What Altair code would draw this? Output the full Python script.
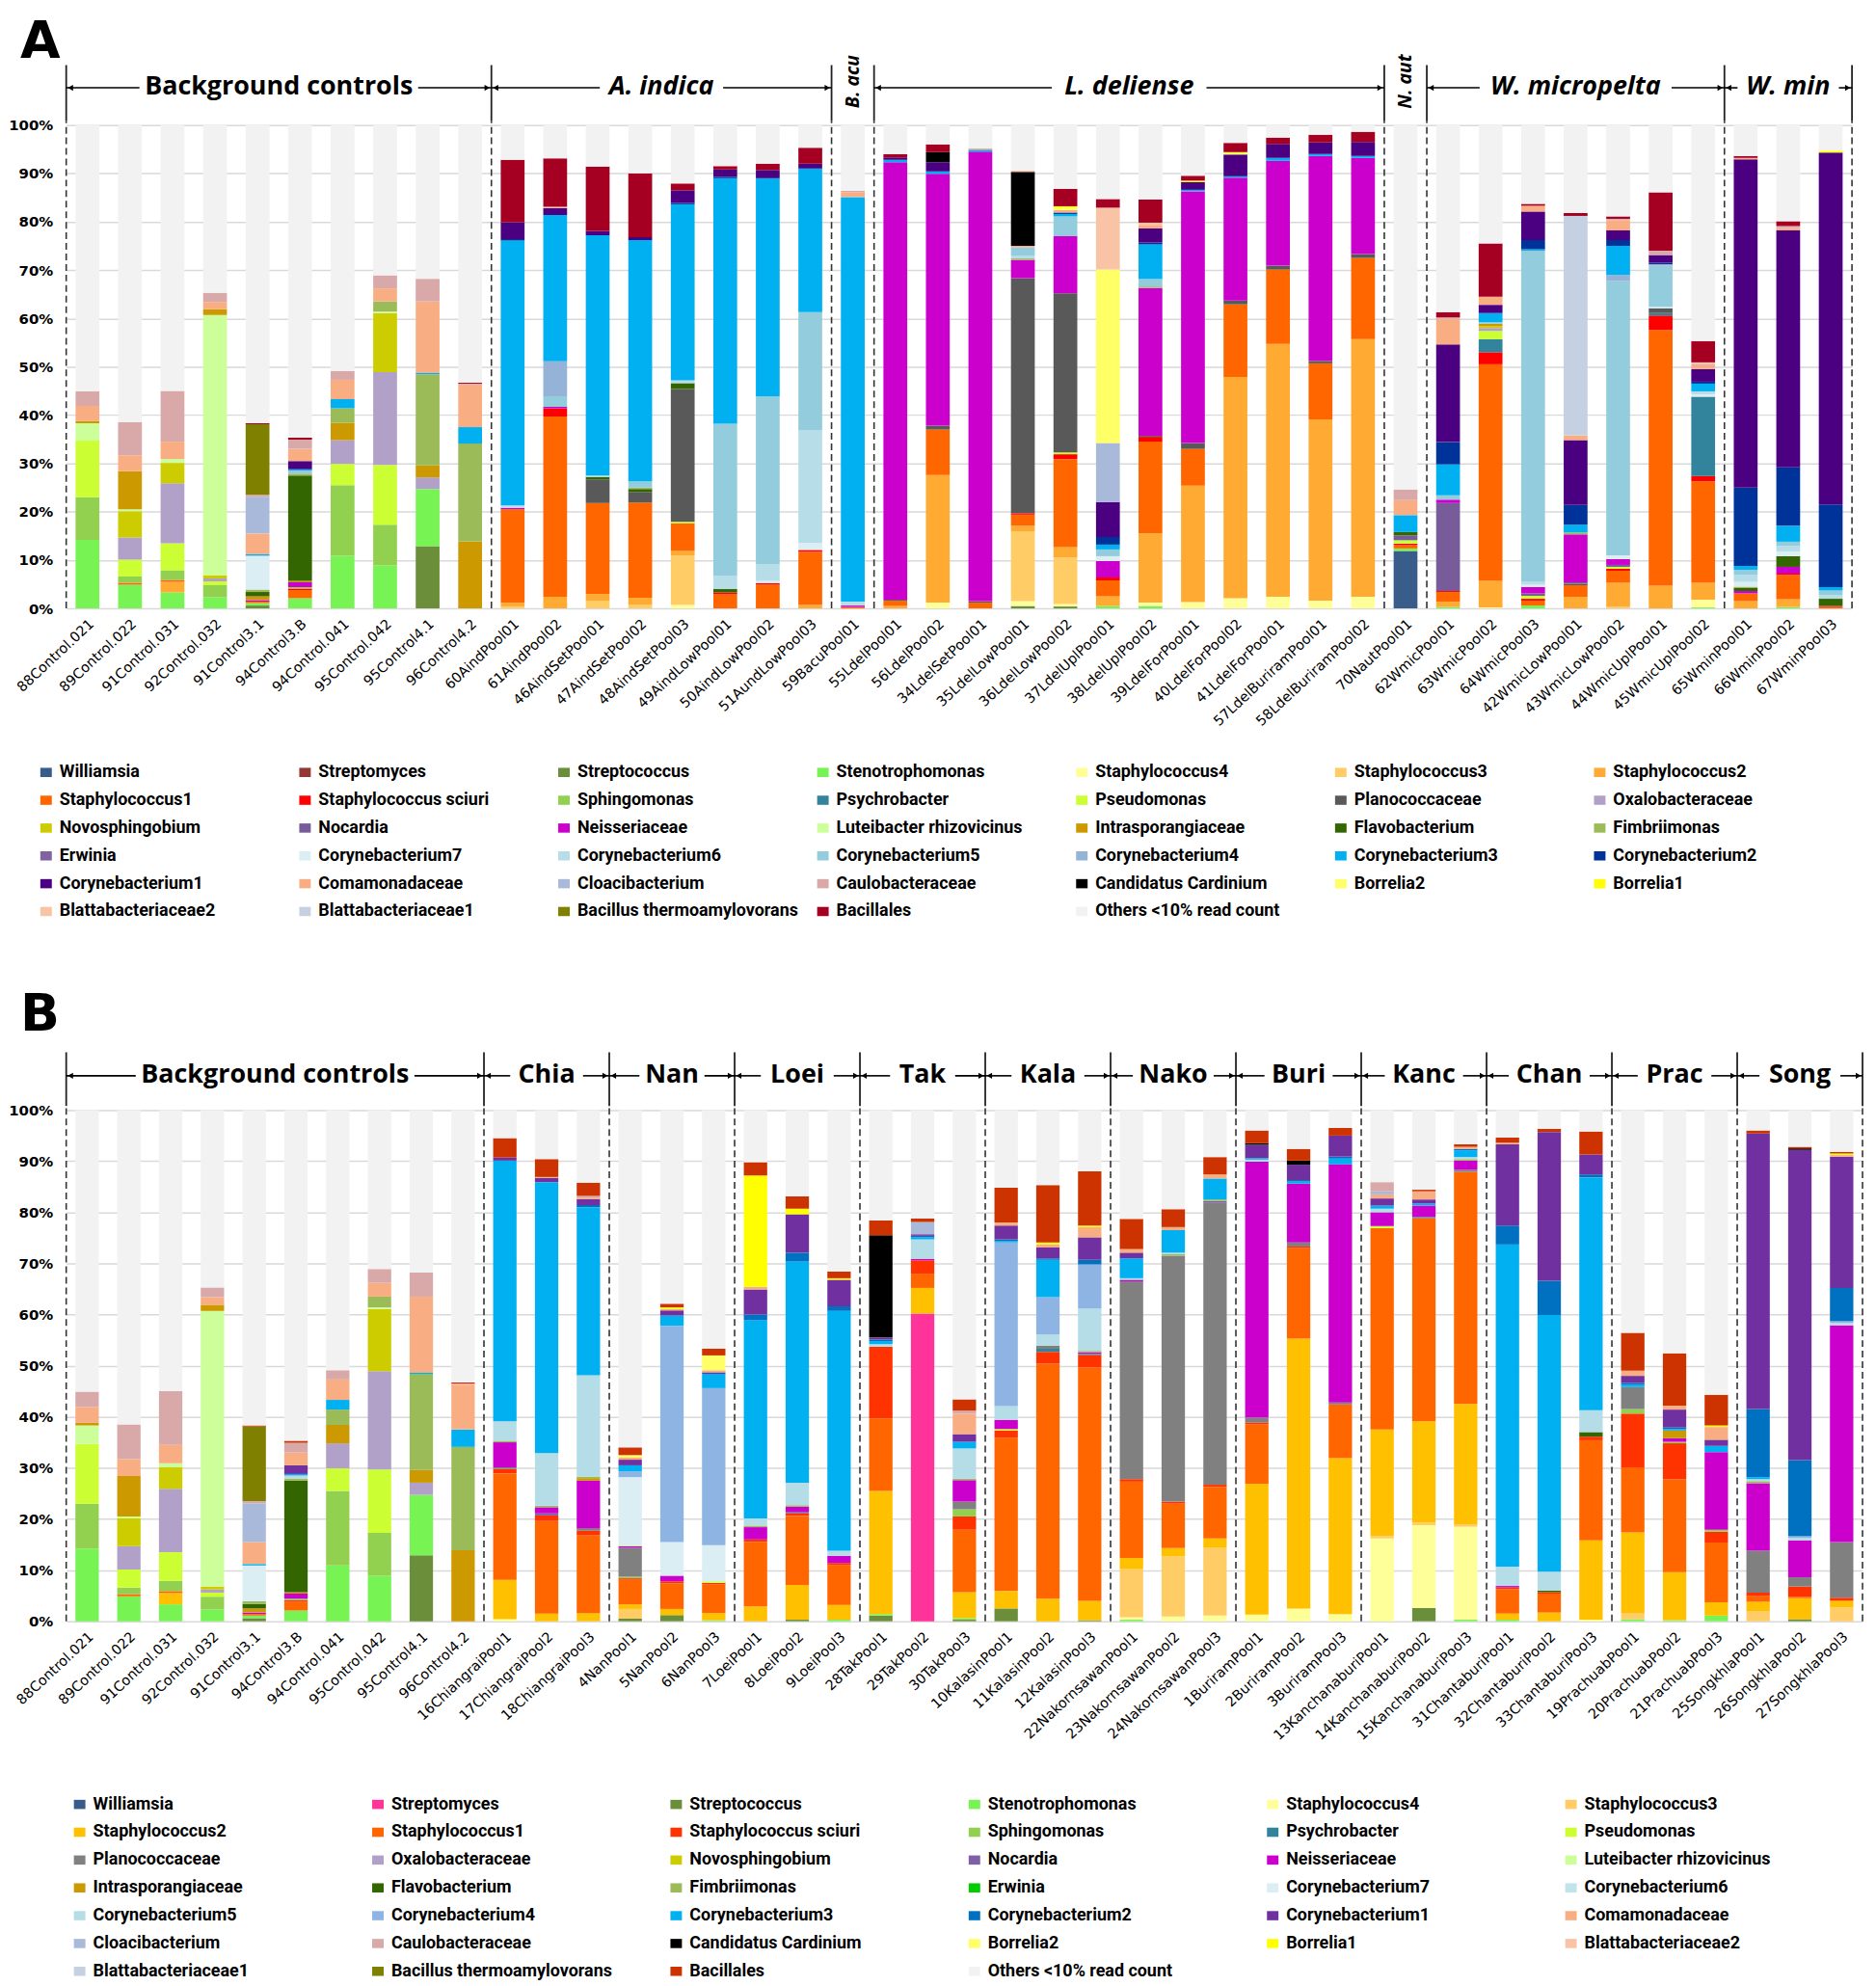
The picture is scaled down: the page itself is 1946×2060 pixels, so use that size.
import altair as alt
import pandas as pd

TAXA = [
    ("W", "Williamsia"), ("Sm", "Streptomyces"), ("Sc", "Streptococcus"), ("St", "Stenotrophomonas"),
    ("S4", "Staphylococcus4"), ("S3", "Staphylococcus3"), ("S2", "Staphylococcus2"), ("S1", "Staphylococcus1"),
    ("Ss", "Staphylococcus sciuri"), ("Sp", "Sphingomonas"), ("Ps", "Psychrobacter"), ("Pm", "Pseudomonas"),
    ("Pl", "Planococcaceae"), ("Ox", "Oxalobacteraceae"), ("No", "Novosphingobium"), ("Nc", "Nocardia"),
    ("Ne", "Neisseriaceae"), ("Lu", "Luteibacter rhizovicinus"), ("In", "Intrasporangiaceae"), ("Fl", "Flavobacterium"),
    ("Fi", "Fimbriimonas"), ("Er", "Erwinia"), ("C7", "Corynebacterium7"), ("C6", "Corynebacterium6"),
    ("C5", "Corynebacterium5"), ("C4", "Corynebacterium4"), ("C3", "Corynebacterium3"), ("C2", "Corynebacterium2"),
    ("C1", "Corynebacterium1"), ("Co", "Comamonadaceae"), ("Cl", "Cloacibacterium"), ("Ca", "Caulobacteraceae"),
    ("Cc", "Candidatus Cardinium"), ("B2", "Borrelia2"), ("B1", "Borrelia1"), ("Bt2", "Blattabacteriaceae2"),
    ("Bt1", "Blattabacteriaceae1"), ("Bth", "Bacillus thermoamylovorans"), ("Ba", "Bacillales"),
    ("Ot", "Others <10% read count"),
]

COLORS_A = ["#385D8A", "#953735", "#6B8E3A", "#77F353", "#FFFF99", "#FFCC66", "#FFAA33", "#FF6600",
            "#FF0000", "#92D050", "#31849B", "#CCFF33", "#595959", "#B1A0C7", "#CCCC00", "#775C99",
            "#CC00CC", "#CCFF99", "#CC9900", "#336600", "#9BBB59", "#8064A2", "#DAEEF3", "#B7DEE8",
            "#93CDDD", "#95B3D7", "#00B0F0", "#003399", "#4B0082", "#F8AE82", "#A9B9DA", "#D9A8A8",
            "#000000", "#FFFF66", "#FFFF00", "#F9C3A6", "#C5D0E3", "#808000", "#A50021", "#F2F2F2"]

COLORS_B = ["#385D8A", "#FF3399", "#6B8E3A", "#77F353", "#FFFF99", "#FFCC66", "#FFC000", "#FF6600",
            "#FF3300", "#92D050", "#31849B", "#CCFF33", "#808080", "#B1A0C7", "#CCCC00", "#7F5FA6",
            "#CC00CC", "#CCFF99", "#CC9900", "#336600", "#9BBB59", "#00CC00", "#DAEEF3", "#C0E3EC",
            "#B4DDE7", "#8DB4E2", "#00B0F0", "#0070C0", "#7030A0", "#F8AE82", "#A9B9DA", "#D9A8A8",
            "#000000", "#FFFF66", "#FFFF00", "#F9C3A6", "#C5D0E3", "#808000", "#CC3300", "#F2F2F2"]

CONTROL_SAMPLES = ["88Control.021", "89Control.022", "91Control.031", "92Control.032", "91Control3.1",
                   "94Control3.B", "94Control.041", "95Control.042", "95Control4.1", "96Control4.2"]

CONTROLS = {
    "88Control.021": {"St": 14.2, "Sp": 8.8, "Pm": 11.7, "Lu": 3.6, "In": 0.5, "Co": 3.1, "Ca": 3.0},
    "89Control.022": {"St": 4.9, "S1": 0.4, "Sp": 1.3, "Pm": 3.5, "Ox": 4.6, "No": 5.4, "Lu": 0.4, "In": 7.9, "Co": 3.3, "Ca": 6.8},
    "91Control.031": {"St": 3.3, "S2": 2.2, "S1": 0.4, "Sp": 2.0, "Pm": 5.6, "Ox": 12.4, "No": 4.2, "Lu": 0.8, "Co": 3.6, "Ca": 10.5},
    "92Control.032": {"St": 2.3, "Sp": 2.5, "Pm": 0.8, "Ox": 0.6, "No": 0.6, "Lu": 53.9, "In": 1.2, "Co": 1.5, "Ca": 1.9},
    "91Control3.1": {"Sc": 0.6, "St": 0.5, "S1": 0.3, "Ne": 0.3, "In": 0.8, "Fl": 0.9, "Fi": 0.5, "C7": 7.0, "C3": 0.3,
                     "Co": 4.3, "Cl": 7.6, "Ca": 0.4, "Bth": 14.6, "Ba": 0.2},
    "94Control3.B": {"St": 2.1, "S1": 1.7, "Ss": 0.3, "Sp": 0.3, "Ne": 1.0, "In": 0.3, "Fl": 21.8, "Fi": 0.4, "C5": 0.6,
                     "C3": 0.3, "C1": 1.7, "Co": 2.5, "Ca": 1.9, "Ba": 0.4},
    "94Control.041": {"St": 10.9, "Sp": 14.6, "Pm": 4.4, "Ox": 4.9, "In": 3.6, "Fi": 3.0, "C3": 1.9, "Co": 4.0, "Ca": 1.8},
    "95Control.042": {"St": 8.9, "Sp": 8.4, "Pm": 12.4, "Ox": 19.2, "No": 12.2, "Lu": 0.3, "Fi": 2.1, "Co": 2.7, "Ca": 2.7},
    "95Control4.1": {"Sc": 12.9, "St": 11.8, "Ox": 2.4, "In": 2.5, "Fi": 18.8, "C3": 0.3, "Co": 14.8, "Ca": 4.7},
    "96Control4.2": {"In": 13.9, "Fi": 20.2, "C3": 3.4, "Co": 8.8, "Ca": 0.2, "Ba": 0.2},
}

SAMPLES_A_HOST = ["60AindPool01", "61AindPool02", "46AindSetPool01", "47AindSetPool02", "48AindSetPool03",
                  "49AindLowPool01", "50AindLowPool02", "51AundLowPool03", "59BacuPool01",
                  "55LdelPool01", "56LdelPool02", "34LdelSetPool01", "35LdelLowPool01", "36LdelLowPool02",
                  "37LdelUplPool01", "38LdelUplPool02", "39LdelForPool01", "40LdelForPool02", "41LdelForPool01",
                  "57LdelBuriramPool01", "58LdelBuriramPool02", "70NautPool01",
                  "62WmicPool01", "63WmicPool02", "64WmicPool03", "42WmicLowPool01", "43WmicLowPool02",
                  "44WmicUplPool01", "45WmicUplPool02", "65WminPool01", "66WminPool02", "67WminPool03"]

COMP_A = {
    "60AindPool01": {"S3": 0.4, "S2": 0.8, "S1": 19.3, "Ne": 0.3, "C6": 0.5, "C3": 54.8, "C2": 0.3, "C1": 3.5, "Ba": 12.9},
    "61AindPool02": {"S2": 2.4, "S1": 37.3, "Ss": 1.7, "Ne": 0.3, "C5": 2.2, "C4": 7.2, "C3": 30.3, "C1": 1.4, "Bt2": 0.3, "Ba": 10.0},
    "46AindSetPool01": {"S3": 1.6, "S2": 1.4, "S1": 18.8, "Pl": 4.9, "Fl": 0.5, "C6": 0.3, "C3": 49.7, "C1": 0.9, "Ba": 13.3},
    "47AindSetPool02": {"S3": 0.8, "S2": 1.4, "S1": 19.7, "Pl": 2.2, "Fl": 0.6, "Fi": 0.3, "C5": 1.3, "C3": 49.9, "C1": 0.6, "Ba": 13.2},
    "48AindSetPool03": {"S4": 0.7, "S3": 10.2, "S2": 1.0, "S1": 5.7, "Pm": 0.3, "Pl": 27.5, "Fl": 1.2, "C6": 0.6, "C3": 36.4,
                        "C2": 0.3, "C1": 2.6, "Ba": 1.4},
    "49AindLowPool01": {"S1": 2.9, "Ss": 0.4, "Fl": 0.7, "C6": 2.7, "C5": 31.5, "C3": 50.8, "C2": 0.3, "C1": 1.5, "Ba": 0.7},
    "50AindLowPool02": {"S1": 4.9, "Ss": 0.3, "C7": 0.5, "C6": 3.5, "C5": 34.7, "C3": 45.1, "C1": 1.7, "Ba": 1.3},
    "51AundLowPool03": {"S2": 0.7, "S1": 11.0, "Ss": 0.4, "C7": 1.5, "C6": 23.2, "C5": 24.5, "C3": 29.7, "C1": 1.0, "Ba": 3.3},
    "59BacuPool01": {"S1": 0.3, "Ne": 0.3, "C6": 0.8, "C3": 83.7, "Co": 1.0, "Ca": 0.3},
    "55LdelPool01": {"S2": 0.5, "S1": 1.1, "Pl": 0.2, "Ne": 90.5, "C3": 0.5, "C1": 0.5, "Ba": 0.7},
    "56LdelPool02": {"S4": 1.2, "S2": 26.4, "S1": 9.4, "Pl": 0.8, "Ne": 52.1, "C3": 0.5, "C1": 1.9, "Cc": 2.1, "Ba": 1.6},
    "34LdelSetPool01": {"S1": 1.2, "Pl": 0.3, "Ne": 93.0, "C3": 0.4, "Co": 0.3},
    "35LdelLowPool01": {"Sc": 0.5, "S4": 1.0, "S3": 14.4, "S2": 1.2, "S1": 2.3, "Ss": 0.3, "Pl": 48.6, "Ne": 3.8, "Fi": 0.3,
                        "C6": 0.5, "C5": 1.8, "Co": 0.3, "Cc": 15.3, "Bt2": 0.3},
    "36LdelLowPool02": {"Sc": 0.4, "S4": 0.5, "S3": 9.6, "S2": 2.2, "S1": 18.2, "Ss": 1.0, "Pm": 0.4, "Pl": 32.9, "Ne": 11.8,
                        "C5": 4.1, "C3": 0.5, "C2": 0.3, "Co": 0.5, "B2": 0.5, "B1": 0.3, "Ba": 3.6},
    "37LdelUplPool01": {"St": 0.5, "S2": 2.0, "S1": 3.3, "Ss": 0.6, "Ne": 3.4, "C7": 1.0, "C5": 1.4, "C3": 1.0, "C2": 1.6,
                        "C1": 7.2, "Cl": 12.2, "B2": 35.9, "Bt2": 12.8, "Ba": 1.8},
    "38LdelUplPool02": {"St": 0.5, "S4": 0.7, "S2": 14.3, "S1": 19.0, "Ss": 1.0, "Pl": 0.2, "Ne": 30.6, "Fi": 0.3, "C5": 1.6,
                        "C3": 7.1, "C2": 0.4, "C1": 2.9, "Co": 0.6, "Bt2": 0.6, "Ba": 4.8},
    "39LdelForPool01": {"S4": 1.3, "S2": 24.1, "S1": 7.6, "Pl": 1.2, "Ne": 52.1, "C3": 0.3, "C1": 1.6, "B1": 0.3, "Ba": 1.0},
    "40LdelForPool02": {"S4": 2.1, "S2": 45.8, "S1": 15.0, "Pl": 0.8, "Ne": 25.4, "C3": 0.3, "C1": 4.5, "B2": 0.3, "B1": 0.2, "Ba": 1.9},
    "41LdelForPool01": {"S4": 2.4, "S2": 52.3, "S1": 15.4, "Pl": 0.8, "Ne": 21.7, "C3": 0.6, "C1": 2.9, "Ba": 1.3},
    "57LdelBuriramPool01": {"S4": 1.6, "S2": 37.5, "S1": 11.6, "Pl": 0.5, "Ne": 42.4, "C3": 0.4, "C1": 2.4, "Ba": 1.6},
    "58LdelBuriramPool02": {"S4": 2.4, "S2": 53.3, "S1": 16.8, "Pl": 0.8, "Ne": 19.9, "C3": 0.4, "C1": 2.9, "Ba": 2.1},
    "70NautPool01": {"W": 11.9, "St": 0.5, "S1": 0.7, "Ss": 0.3, "Pm": 0.7, "Nc": 1.0, "Fl": 0.7, "C3": 3.5, "Co": 3.1, "Ca": 2.2},
    "62WmicPool01": {"St": 0.3, "S2": 1.1, "S1": 2.0, "Ss": 0.2, "Nc": 18.2, "Ne": 0.7, "C5": 0.9, "C3": 6.4, "C2": 4.6,
                     "C1": 20.2, "Co": 5.3, "Ca": 0.3, "Ba": 1.1},
    "63WmicPool02": {"S4": 0.2, "S2": 5.5, "S1": 44.8, "Ss": 2.5, "Ps": 2.7, "Pm": 1.7, "Ox": 0.6, "No": 0.4, "In": 0.5,
                     "C5": 0.3, "C3": 1.9, "C1": 1.7, "Co": 1.7, "Ba": 11.0},
    "64WmicPool03": {"St": 0.6, "S1": 1.0, "Ss": 0.4, "Pm": 0.6, "Nc": 0.5, "Ne": 1.3, "C7": 0.5, "C6": 0.6, "C5": 68.5,
                     "C3": 0.3, "C2": 1.9, "C1": 5.9, "Co": 1.2, "Ba": 0.4},
    "42WmicLowPool01": {"S2": 2.4, "S1": 2.4, "Pl": 0.3, "Nc": 0.3, "Ne": 9.9, "Fi": 0.4, "C3": 1.6, "C2": 4.1, "C1": 13.4,
                        "Co": 1.0, "Bt1": 45.4, "Ba": 0.6},
    "43WmicLowPool02": {"S3": 0.3, "S2": 5.0, "S1": 2.5, "Ss": 0.4, "Pm": 0.4, "Nc": 0.4, "Ne": 1.2, "C7": 0.8, "C5": 56.7,
                        "C4": 1.3, "C3": 6.0, "C2": 1.2, "C1": 2.0, "Co": 2.1, "Ca": 0.3, "Ba": 0.5},
    "44WmicUplPool01": {"S2": 4.7, "S1": 52.9, "Ss": 3.0, "Ps": 0.5, "Pl": 1.0, "C7": 0.3, "C5": 8.5, "C4": 0.3, "C2": 0.3,
                        "C1": 1.6, "Ca": 0.9, "Ba": 12.1},
    "45WmicUplPool02": {"St": 0.2, "S4": 1.6, "S2": 3.5, "S1": 21.0, "Ss": 1.1, "Ps": 16.4, "C7": 0.5, "C6": 0.6, "C3": 1.6,
                        "C2": 0.4, "C1": 2.6, "Co": 0.8, "Ca": 0.3, "Bt2": 0.3, "Ba": 4.4},
    "65WminPool01": {"S2": 1.5, "S1": 1.6, "Ne": 0.5, "Fl": 0.6, "Fi": 0.3, "C7": 1.0, "C6": 1.5, "C5": 1.0, "C3": 0.8,
                     "C2": 16.2, "C1": 67.9, "Co": 0.3, "Ba": 0.4},
    "66WminPool02": {"St": 0.3, "S2": 1.6, "S1": 5.0, "Ss": 0.3, "Ne": 1.4, "Fl": 2.2, "C7": 1.0, "C6": 1.1, "C5": 0.9,
                     "C3": 3.3, "C2": 12.1, "C1": 49.0, "Co": 0.5, "Ca": 0.4, "Ba": 1.0},
    "67WminPool03": {"S1": 0.3, "Ss": 0.2, "Fl": 1.5, "C6": 0.8, "C5": 0.9, "C3": 0.7, "C2": 17.1, "C1": 72.8, "B1": 0.4},
}

SAMPLES_B_HOST = ["16ChiangraiPool1", "17ChiangraiPool2", "18ChiangraiPool3", "4NanPool1", "5NanPool2", "6NanPool3",
                  "7LoeiPool1", "8LoeiPool2", "9LoeiPool3", "28TakPool1", "29TakPool2", "30TakPool3",
                  "10KalasinPool1", "11KalasinPool2", "12KalasinPool3", "22NakornsawanPool1", "23NakornsawanPool2",
                  "24NakornsawanPool3", "1BuriramPool1", "2BuriramPool2", "3BuriramPool3", "13KanchanaburiPool1",
                  "14KanchanaburiPool2", "15KanchanaburiPool3", "31ChantaburiPool1", "32ChantaburiPool2",
                  "33ChantaburiPool3", "19PrachuabPool1", "20PrachuabPool2", "21PrachuabPool3",
                  "25SongkhlaPool1", "26SongkhlaPool2", "27SongkhlaPool3"]

COMP_B = {
    "16ChiangraiPool1": {"S4": 0.4, "S2": 7.7, "S1": 20.8, "Ss": 0.9, "Pl": 0.3, "Ne": 4.9, "Fi": 0.3, "C5": 3.8, "C3": 51.0, "C1": 0.6, "Ba": 3.8},
    "17ChiangraiPool2": {"S2": 1.5, "S1": 18.1, "Ss": 1.1, "Nc": 0.4, "Ne": 1.2, "Fi": 0.3, "C5": 10.3, "C3": 53.0, "C1": 0.8, "Co": 0.2, "Ba": 3.5},
    "18ChiangraiPool3": {"S2": 1.6, "S1": 15.2, "Ss": 0.9, "Pl": 0.5, "Ne": 9.3, "In": 0.5, "Fi": 0.3, "C5": 19.8, "C3": 32.9,
                         "C2": 0.4, "C1": 1.2, "Co": 0.3, "Ca": 0.3, "Ba": 2.6},
    "4NanPool1": {"Sc": 0.5, "S3": 1.9, "S2": 0.9, "S1": 4.8, "Ss": 0.3, "Sp": 0.3, "Pl": 5.7, "Ne": 0.3, "Lu": 0.2, "C7": 13.3,
                  "C4": 1.1, "C3": 1.2, "C1": 1.1, "Co": 0.4, "B2": 0.5, "Ba": 1.5},
    "5NanPool2": {"Sc": 1.2, "S2": 1.2, "S1": 5.0, "Ss": 0.4, "Ne": 1.1, "C7": 6.6, "C4": 42.3, "C3": 2.0, "C1": 1.0, "Co": 0.3, "B1": 0.3, "Ba": 0.7},
    "6NanPool3": {"St": 0.2, "S2": 1.4, "S1": 5.6, "Ss": 0.3, "Pm": 0.3, "C7": 7.1, "C4": 30.7, "C3": 2.8, "C1": 0.3, "Co": 0.4, "B2": 2.9, "Ba": 1.3},
    "7LoeiPool1": {"S2": 2.9, "S1": 12.6, "Ss": 0.5, "Ne": 2.4, "Fi": 0.3, "C5": 1.4, "C3": 38.8, "C2": 1.1, "C1": 4.9, "Co": 0.5, "B1": 21.8, "Ba": 2.6},
    "8LoeiPool2": {"Sc": 0.3, "S2": 6.8, "S1": 13.5, "Ss": 0.5, "Nc": 0.3, "Ne": 1.0, "Fi": 0.3, "C5": 4.4, "C3": 43.3, "C2": 1.7,
                   "C1": 7.5, "B1": 1.1, "Ba": 2.4},
    "9LoeiPool3": {"St": 0.3, "S2": 2.9, "S1": 7.8, "Ss": 0.4, "Ne": 1.4, "C5": 1.0, "C3": 46.9, "C2": 0.9, "C1": 5.1, "Co": 0.2, "B1": 0.2, "Ba": 1.3},
    "28TakPool1": {"Sc": 1.1, "St": 0.3, "S2": 24.1, "S1": 14.2, "Ss": 14.0, "C5": 0.5, "C3": 0.6, "C2": 0.3, "C1": 0.4, "Cc": 20.0, "Ba": 2.9},
    "29TakPool2": {"Sm": 60.2, "S2": 5.0, "S1": 2.8, "Ss": 2.6, "Ne": 0.3, "C5": 3.8, "C3": 0.4, "C2": 0.3, "C1": 0.3, "Cl": 2.4, "Ba": 0.7},
    "30TakPool3": {"Sc": 0.3, "St": 0.3, "S2": 5.1, "S1": 12.2, "Ss": 2.6, "Sp": 1.4, "Pl": 1.5, "Ne": 4.2, "Fi": 0.3, "C5": 5.9,
                   "C3": 1.3, "C1": 1.5, "Co": 4.0, "Ca": 0.6, "Ba": 2.2},
    "10KalasinPool1": {"Sc": 2.5, "S2": 3.4, "S1": 30.0, "Ss": 1.4, "Pm": 0.3, "Ne": 1.8, "C5": 2.7, "C4": 32.0, "C3": 0.3, "C2": 0.3,
                       "C1": 2.7, "Co": 0.6, "Ba": 6.8},
    "11KalasinPool2": {"S2": 4.4, "S1": 46.0, "Ss": 2.3, "Ps": 0.6, "Pl": 0.6, "C5": 2.2, "C4": 7.3, "C3": 7.3, "C2": 0.3, "C1": 2.1,
                       "Co": 0.6, "B1": 0.4, "Ba": 11.2},
    "12KalasinPool3": {"Sc": 0.2, "S2": 3.8, "S1": 45.6, "Ss": 2.4, "Pl": 0.3, "Ne": 0.3, "Fi": 0.3, "C5": 8.3, "C4": 8.6, "C2": 0.9,
                       "C1": 4.4, "Co": 2.0, "B1": 0.3, "Ba": 10.6},
    "22NakornsawanPool1": {"St": 0.3, "S4": 0.5, "S3": 9.4, "S2": 2.2, "S1": 14.9, "Ss": 0.5, "Pl": 38.7, "Ne": 0.3, "C5": 0.3,
                           "C3": 3.9, "C1": 1.1, "Co": 0.7, "Ba": 5.9},
    "23NakornsawanPool2": {"S4": 0.9, "S3": 11.8, "S2": 1.6, "S1": 8.7, "Ss": 0.4, "Pl": 48.1, "Fi": 0.3, "C5": 0.3, "C3": 4.4, "Co": 0.6, "Ba": 3.5},
    "24NakornsawanPool3": {"S4": 1.1, "S3": 13.3, "S2": 1.8, "S1": 10.1, "Ss": 0.4, "Pl": 55.2, "Nc": 0.3, "Fi": 0.3, "C3": 4.1, "Co": 0.8, "Ba": 3.4},
    "1BuriramPool1": {"S4": 1.3, "S2": 25.6, "S1": 11.6, "Ss": 0.4, "Pl": 0.9, "Ne": 50.1, "C5": 0.4, "C3": 0.3, "C1": 2.6, "Cc": 0.3, "Ba": 2.5},
    "2BuriramPool2": {"S4": 2.5, "S2": 52.8, "S1": 17.7, "Ss": 0.3, "Pl": 0.8, "Ne": 11.5, "C3": 0.4, "C2": 0.3, "C1": 3.0, "Cc": 0.8, "Ba": 2.3},
    "3BuriramPool3": {"S4": 1.4, "S2": 30.5, "S1": 10.5, "Pl": 0.4, "Ne": 46.6, "C3": 1.1, "C2": 0.4, "C1": 4.1, "Ba": 1.5},
    "13KanchanaburiPool1": {"S4": 16.2, "S3": 0.5, "S2": 20.8, "S1": 39.4, "Pm": 0.4, "Ne": 2.7, "C5": 0.7, "C3": 0.6, "C1": 1.4,
                            "Co": 0.8, "Cl": 0.6, "Ca": 1.8},
    "14KanchanaburiPool2": {"Sc": 2.6, "S4": 16.2, "S3": 0.5, "S2": 19.8, "S1": 39.7, "Pl": 0.3, "Ne": 2.2, "C3": 0.4, "C1": 0.8, "Co": 1.6, "Ba": 0.3},
    "15KanchanaburiPool3": {"St": 0.3, "S4": 18.2, "S3": 0.5, "S2": 23.5, "S1": 45.4, "Pl": 0.4, "Ne": 1.8, "Fi": 0.3, "C5": 0.4,
                            "C3": 1.3, "C2": 0.3, "Co": 0.4, "Ba": 0.5},
    "31ChantaburiPool1": {"St": 0.3, "S2": 1.2, "S1": 4.8, "Ss": 0.3, "Ne": 0.3, "C5": 3.8, "C3": 63.0, "C2": 3.7, "C1": 15.9, "Co": 0.3, "Ba": 1.0},
    "32ChantaburiPool2": {"S2": 1.7, "S1": 3.7, "Ss": 0.3, "Fl": 0.3, "C5": 3.7, "C3": 50.2, "C2": 6.7, "C1": 29.1, "Ba": 0.6},
    "33ChantaburiPool3": {"S4": 0.3, "S2": 15.5, "S1": 19.6, "Ss": 0.7, "Fl": 0.9, "C5": 4.3, "C3": 45.5, "C2": 0.6, "C1": 3.9, "Ba": 4.5},
    "19PrachuabPool1": {"St": 0.4, "S3": 1.2, "S2": 15.8, "S1": 12.7, "Ss": 10.5, "Sp": 0.9, "Pl": 4.3, "C3": 0.5, "C2": 0.3, "C1": 1.4,
                        "Co": 1.0, "Ba": 7.4},
    "20PrachuabPool2": {"St": 0.2, "S2": 9.4, "S1": 18.2, "Ss": 7.0, "Sp": 0.3, "Ne": 0.7, "In": 1.5, "C3": 0.3, "C2": 0.3, "C1": 3.5,
                        "Co": 0.8, "Ba": 10.2},
    "21PrachuabPool3": {"St": 1.1, "S2": 2.6, "S1": 11.7, "Ss": 2.1, "Sp": 0.4, "Ne": 15.2, "C3": 1.2, "C1": 1.2, "Co": 2.5, "B1": 0.3, "Ba": 6.0},
    "25SongkhlaPool1": {"S3": 2.0, "S2": 1.8, "S1": 1.1, "Ss": 0.7, "Pl": 8.2, "Ne": 13.2, "Fi": 0.4, "C5": 0.4, "C3": 0.4, "C2": 13.3,
                        "C1": 53.9, "Ba": 0.6},
    "26SongkhlaPool2": {"Sc": 0.4, "S2": 4.1, "S1": 0.3, "Ss": 2.0, "Pl": 1.8, "Ne": 7.2, "C5": 0.5, "C4": 0.3, "C2": 14.9, "C1": 60.7,
                        "Cc": 0.3, "Ba": 0.3},
    "27SongkhlaPool3": {"S3": 2.7, "S2": 1.3, "Ss": 0.6, "Pl": 10.9, "Ne": 42.4, "C5": 0.5, "C4": 0.3, "C2": 6.5, "C1": 25.7,
                        "Co": 0.3, "B1": 0.3, "Ba": 0.3},
}

GROUPS_A = [("Background controls", 10, "normal"), ("A. indica", 8, "italic"), ("B. acu", 1, "italic"),
            ("L. deliense", 12, "italic"), ("N. aut", 1, "italic"), ("W. micropelta", 7, "italic"),
            ("W. min", 3, "italic")]
GROUPS_B = [("Background controls", 10, "normal"), ("Chia", 3, "normal"), ("Nan", 3, "normal"),
            ("Loei", 3, "normal"), ("Tak", 3, "normal"), ("Kala", 3, "normal"), ("Nako", 3, "normal"),
            ("Buri", 3, "normal"), ("Kanc", 3, "normal"), ("Chan", 3, "normal"), ("Prac", 3, "normal"),
            ("Song", 3, "normal")]

HEAD_FONT = "Open Sans"
HEAD_FS = 27
NAMES = [t[1] for t in TAXA]
IDX = {a: i for i, (a, _) in enumerate(TAXA)}
SYMBOL = "M-1,-0.8H1V0.8H-1Z"
CHAR_W = {" ": 0.26, ".": 0.27, "i": 0.3, "l": 0.3, "t": 0.43, "r": 0.43, "c": 0.51, "s": 0.5, "m": 0.93,
          "W": 0.95}


def text_width(s, fs):
    w = 0.0
    for ch in s:
        if ch in CHAR_W:
            w += CHAR_W[ch]
        elif ch.isupper():
            w += 0.7
        else:
            w += 0.61
    return w * fs


def build_panel(samples, comp, groups, colors, letter, width, height, lay):
    n_s = len(samples)
    ppx = width / n_s
    rows = []
    for s in samples:
        tot = 0.0
        for a, v in comp[s].items():
            rows.append({"sample": s, "taxon": NAMES[IDX[a]], "ord": IDX[a], "value": v})
            tot += v
        rows.append({"sample": s, "taxon": NAMES[-1], "ord": len(NAMES) - 1, "value": round(100 - tot, 2)})
    df = pd.DataFrame(rows)

    yscale = alt.Scale(domain=[0, 100], nice=False)
    xs = alt.Scale(domain=[-0.5, n_s - 0.5], nice=False, zero=False)

    bars = alt.Chart(df).mark_bar(strokeWidth=0).encode(
        x=alt.X("sample:N", sort=samples, title=None,
                scale=alt.Scale(paddingInner=0.44, paddingOuter=0.22),
                axis=alt.Axis(labelAngle=-43, labelFont="DejaVu Sans", labelFontSize=14.5, labelColor="black",
                              ticks=False, domain=False, labelPadding=9, labelLimit=400, labelOverlap=False)),
        y=alt.Y("value:Q", stack="zero", title=None, scale=yscale,
                axis=alt.Axis(values=list(range(0, 101, 10)), labelExpr="datum.value + '%'", grid=True,
                              gridColor="#D9D9D9", gridWidth=1.5, ticks=False, domain=False,
                              labelFont="DejaVu Sans", labelFontWeight="bold", labelFontSize=15,
                              labelColor="black", labelPadding=lay["ypad"])),
        color=alt.Color("taxon:N", scale=alt.Scale(domain=NAMES, range=colors),
                        legend=alt.Legend(title=None, orient="none", legendX=lay["lx"], legendY=lay["ly"],
                                          direction="horizontal", columns=lay["cols"], gridAlign="all",
                                          columnPadding=lay["cp"], rowPadding=lay["rp"], symbolType=SYMBOL,
                                          symbolSize=144, symbolStrokeWidth=0, symbolLimit=60,
                                          labelFont="Roboto", labelFontWeight="bold", labelFontSize=18,
                                          labelColor="black", labelLimit=400, padding=0, labelOffset=5)),
        order=alt.Order("ord:Q", sort="ascending"),
    )

    bnds = [-0.5]
    for g in groups:
        bnds.append(bnds[-1] + g[1])
    sep = pd.DataFrame({"x": bnds, "y0": 0.0, "y1": lay["ys0"], "y2": lay["ys1"]})
    dashed = alt.Chart(sep).mark_rule(color="#333333", strokeWidth=1.6, strokeDash=[7, 4]).encode(
        x=alt.X("x:Q", scale=xs, axis=None), y=alt.Y("y0:Q", scale=yscale, title=None), y2="y1:Q")
    solid = alt.Chart(sep).mark_rule(color="#222222", strokeWidth=1.8).encode(
        x=alt.X("x:Q", scale=xs, axis=None), y=alt.Y("y1:Q", scale=yscale, title=None), y2="y2:Q")

    lines, arrows, txt_n, txt_i, txt_v = [], [], [], [], []
    start = 0
    for name, n, style in groups:
        lb, rb = start - 0.5, start + n - 0.5
        c = start + (n - 1) / 2
        if n == 1:
            txt_v.append({"x": c, "y": lay["yv"], "label": name})
        else:
            hw = (text_width(name, HEAD_FS) / 2 + 8) / ppx
            lines.append({"x": lb, "x2": c - hw, "y": lay["yh"]})
            lines.append({"x": c + hw, "x2": rb, "y": lay["yh"]})
            arrows.append({"x": lb + 0.1, "y": lay["yh"], "shape": "triangle-left"})
            arrows.append({"x": rb - 0.1, "y": lay["yh"], "shape": "triangle-right"})
            (txt_i if style == "italic" else txt_n).append({"x": c, "y": lay["yh"], "label": name})
        start += n

    layers = [bars, dashed, solid]
    layers.append(alt.Chart(pd.DataFrame(lines)).mark_rule(color="black", strokeWidth=1.6).encode(
        x=alt.X("x:Q", scale=xs, axis=None), x2="x2:Q", y=alt.Y("y:Q", scale=yscale, title=None)))
    layers.append(alt.Chart(pd.DataFrame(arrows)).mark_point(filled=True, color="black", size=40, opacity=1).encode(
        x=alt.X("x:Q", scale=xs, axis=None), y=alt.Y("y:Q", scale=yscale, title=None),
        shape=alt.Shape("shape:N", scale=None)))
    for data, style in ((txt_n, "normal"), (txt_i, "italic")):
        if data:
            layers.append(alt.Chart(pd.DataFrame(data)).mark_text(
                font=HEAD_FONT, fontWeight="bold", fontStyle=style, fontSize=HEAD_FS, color="black",
                baseline="middle", align="center", dy=-1).encode(
                x=alt.X("x:Q", scale=xs, axis=None), y=alt.Y("y:Q", scale=yscale, title=None), text="label:N"))
    if txt_v:
        layers.append(alt.Chart(pd.DataFrame(txt_v)).mark_text(
            font=HEAD_FONT, fontWeight="bold", fontStyle="italic", fontSize=19.5, color="black",
            baseline="middle", align="center", angle=270).encode(
            x=alt.X("x:Q", scale=xs, axis=None), y=alt.Y("y:Q", scale=yscale, title=None), text="label:N"))
    let = pd.DataFrame({"x": [-0.5 - lay["ldx"] / ppx], "y": [lay["yl"]], "label": [letter]})
    layers.append(alt.Chart(let).mark_text(font="DejaVu Sans", fontWeight="bold", fontSize=54, color="black",
                                           align="left", baseline="alphabetic").encode(
        x=alt.X("x:Q", scale=xs, axis=None), y=alt.Y("y:Q", scale=yscale, title=None), text="label:N"))

    return alt.layer(*layers).resolve_scale(x="independent").properties(width=width, height=height)


LAY_A = {"lx": -30, "ly": 666, "cols": 7, "cp": 16, "rp": 11, "ypad": 14,
         "ys0": 100.8, "ys1": 112.4, "yh": 107.7, "yv": 109.0, "yl": 113.9, "ldx": 48}
LAY_B = {"lx": 5, "ly": 715, "cols": 6, "cp": 57, "rp": 11, "ypad": 14,
         "ys0": 100.8, "ys1": 111.3, "yh": 106.7, "yv": 108.0, "yl": 115.6, "ldx": 48}

COMP_A_ALL = {**CONTROLS, **COMP_A}
COMP_B_ALL = {**CONTROLS, **COMP_B}

panel_a = build_panel(CONTROL_SAMPLES + SAMPLES_A_HOST, COMP_A_ALL, GROUPS_A, COLORS_A, "A", 1862, 504, LAY_A)
panel_b = build_panel(CONTROL_SAMPLES + SAMPLES_B_HOST, COMP_B_ALL, GROUPS_B, COLORS_B, "B", 1873, 533, LAY_B)

chart = alt.vconcat(panel_a, panel_b, spacing=71).resolve_scale(color="independent").configure_view(
    stroke=None).properties(padding={"left": 0, "top": 3, "right": 5, "bottom": 0})

chart.save("out.html", embed_options={"renderer": "svg", "actions": False})
